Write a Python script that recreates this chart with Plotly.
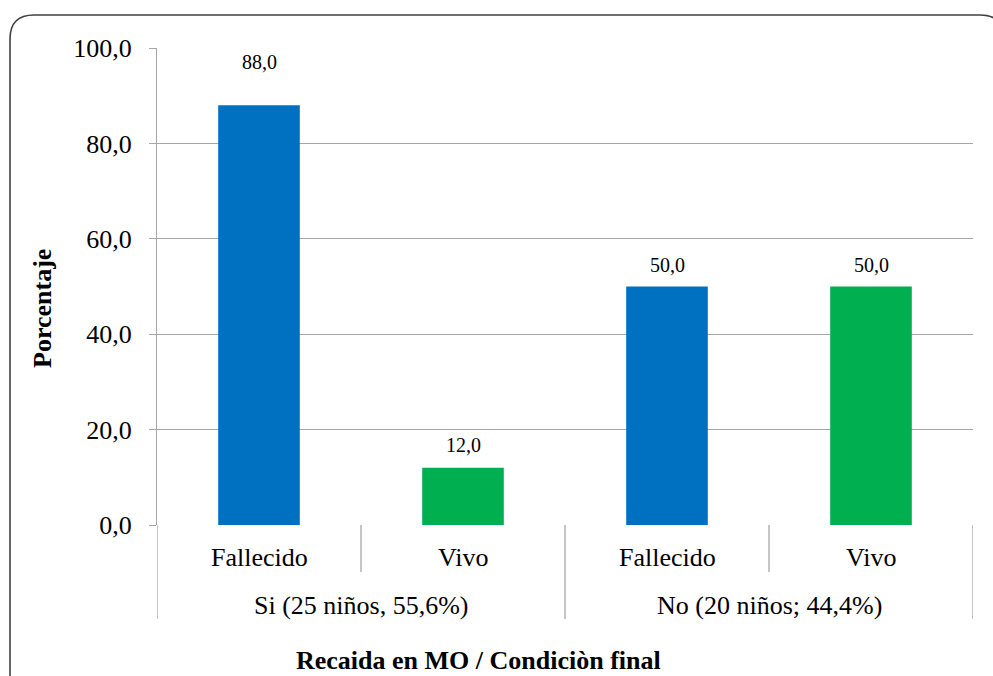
import plotly.graph_objects as go

# ---- data ----
conditions = ["Fallecido", "Vivo", "Fallecido", "Vivo"]
groups = ["Si (25 niños, 55,6%)", "No (20 niños; 44,4%)"]
group_of_bar = [0, 0, 1, 1]
percentages = [88.0, 12.0, 50.0, 50.0]
bar_colors = ["#0070C0", "#00B050", "#0070C0", "#00B050"]
y_ticks = [0, 20, 40, 60, 80, 100]
y_tick_labels = ["0,0", "20,0", "40,0", "60,0", "80,0", "100,0"]
label_shift = [43, 23, 22, 22]

FONT = "Liberation Serif"
W, H = 993, 676
L, R, T, B = 157, 973, 48, 525  # plot area in px


def px2x(px):
    return (px - L) / (R - L)


def py2y(py):
    return (B - py) / (B - T)


xs = list(range(len(conditions)))

fig = go.Figure()
fig.add_trace(go.Bar(
    x=xs, y=percentages, width=0.4,
    marker=dict(color=bar_colors, line=dict(width=0)),
    hoverinfo="skip", showlegend=False,
))

annotations = []
# data labels
for i, v in enumerate(percentages):
    annotations.append(dict(
        x=i, y=v, xref="x", yref="y", text=f"{v:.1f}".replace(".", ","),
        showarrow=False, yanchor="middle", yshift=label_shift[i],
        font=dict(family=FONT, size=20, color="#000000"),
    ))
# inner category labels
for i, c in enumerate(conditions):
    annotations.append(dict(
        x=i, y=py2y(557), xref="x", yref="paper", text=c, showarrow=False,
        yanchor="middle", font=dict(family=FONT, size=26, color="#000000"),
    ))
# group labels
for g, name in enumerate(groups):
    members = [i for i, gg in enumerate(group_of_bar) if gg == g]
    cx = sum(members) / len(members)
    annotations.append(dict(
        x=cx, y=py2y(605), xref="x", yref="paper", text=name, showarrow=False,
        yanchor="middle", font=dict(family=FONT, size=26, color="#000000"),
    ))
# axis titles
annotations.append(dict(
    x=px2x(478), y=py2y(660), xref="paper", yref="paper",
    text="<b>Recaida en MO / Condiciòn final</b>", showarrow=False,
    xanchor="center", yanchor="middle",
    font=dict(family=FONT, size=26, color="#000000"),
))
annotations.append(dict(
    x=px2x(42), y=py2y(309), xref="paper", yref="paper",
    text="<b>Porcentaje</b>", showarrow=False, textangle=-90,
    xanchor="center", yanchor="middle",
    font=dict(family=FONT, size=26, color="#000000"),
))

shapes = []
sep_color = "#A6A6A6"
# inner separators
for i in range(1, len(conditions)):
    is_group_boundary = group_of_bar[i] != group_of_bar[i - 1]
    shapes.append(dict(
        type="line", xref="x", yref="paper", x0=i - 0.5, x1=i - 0.5,
        y0=0, y1=py2y(619 if is_group_boundary else 572),
        line=dict(color=sep_color, width=1.3),
    ))
# outer edges
for xe in [-0.5, len(conditions) - 0.5]:
    shapes.append(dict(
        type="line", xref="x", yref="paper", x0=xe, x1=xe,
        y0=0, y1=py2y(619), line=dict(color=sep_color, width=1.3),
    ))
# rounded chart frame
fl, ft, fr, fb, rad = 10, 15, 1004, 700, 24
path = (
    f"M {px2x(fl)},{py2y(fb)} L {px2x(fl)},{py2y(ft + rad)} "
    f"Q {px2x(fl)},{py2y(ft)} {px2x(fl + rad)},{py2y(ft)} "
    f"L {px2x(fr - rad)},{py2y(ft)} "
    f"Q {px2x(fr)},{py2y(ft)} {px2x(fr)},{py2y(ft + rad)} "
    f"L {px2x(fr)},{py2y(fb)}"
)
shapes.append(dict(type="path", xref="paper", yref="paper", path=path,
                   line=dict(color="#404040", width=1.6), layer="above"))

fig.update_layout(
    width=W, height=H,
    margin=dict(l=L, r=W - R, t=T, b=H - B, pad=0),
    paper_bgcolor="white", plot_bgcolor="white",
    font=dict(family=FONT, color="#000000"),
    xaxis=dict(range=[-0.5, len(conditions) - 0.5], showticklabels=False,
               showgrid=False, zeroline=False, showline=False, ticks="",
               fixedrange=True),
    yaxis=dict(range=[0, 100], tickvals=y_ticks, ticktext=y_tick_labels,
               showgrid=True, gridcolor="#A6A6A6", gridwidth=1,
               zeroline=False, showline=True, linecolor="#A6A6A6",
               linewidth=1.3, ticks="outside", ticklen=7,
               tickcolor="#A6A6A6", tickwidth=1.3, ticklabelstandoff=12,
               tickfont=dict(family=FONT, size=26, color="#000000"),
               fixedrange=True),
    annotations=annotations,
    shapes=shapes,
    bargap=0.6,
)

fig.write_html(
    "out.html",
    config={"displayModeBar": False},
    post_script="document.body.style.margin='0px';document.body.style.overflow='hidden';",
)
